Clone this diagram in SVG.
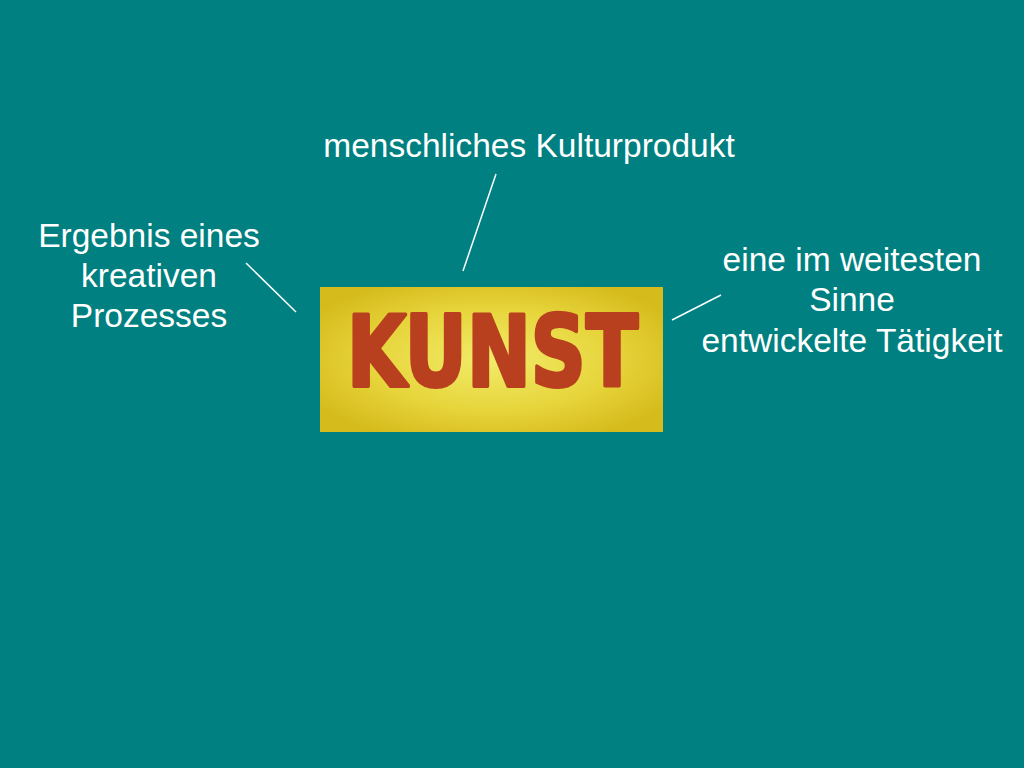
<svg xmlns="http://www.w3.org/2000/svg" width="1024" height="768" viewBox="0 0 1024 768">
<defs>
<radialGradient id="g" cx="0.5" cy="0.5" r="0.6">
<stop offset="0" stop-color="#f2ec6a"/>
<stop offset="0.6" stop-color="#e6d43a"/>
<stop offset="1" stop-color="#d6bb1c"/>
</radialGradient>
<style>
.t{font-family:"Liberation Sans",Arial,sans-serif;font-size:33.5px;fill:#ffffff;text-anchor:middle}
.c{stroke:#ffffff;stroke-width:1.5}
.k{font-family:"DejaVu Sans",sans-serif;font-weight:bold;font-size:98px;fill:#b9401f;stroke:#b9401f;stroke-width:4;stroke-linejoin:round}
</style>
</defs>
<rect width="1024" height="768" fill="#008080"/>
<g id="connectors">
<line class="c" x1="496" y1="174" x2="463" y2="271"/>
<line class="c" x1="246" y1="263" x2="296" y2="312"/>
<line class="c" x1="721" y1="295" x2="672" y2="320"/>
</g>
<g id="kunst">
<rect x="320" y="287" width="343" height="145" fill="url(#g)"/>
<text class="k" x="347" y="386" textLength="291" lengthAdjust="spacingAndGlyphs">KUNST</text>
</g>
<g id="top">
<text class="t" x="529" y="157">menschliches Kulturprodukt</text>
</g>
<g id="left">
<text class="t" x="149" y="247">Ergebnis eines</text>
<text class="t" x="149" y="287">kreativen</text>
<text class="t" x="149" y="327">Prozesses</text>
</g>
<g id="right">
<text class="t" x="852" y="271">eine im weitesten</text>
<text class="t" x="852" y="311">Sinne</text>
<text class="t" x="852" y="352">entwickelte Tätigkeit</text>
</g>
</svg>
